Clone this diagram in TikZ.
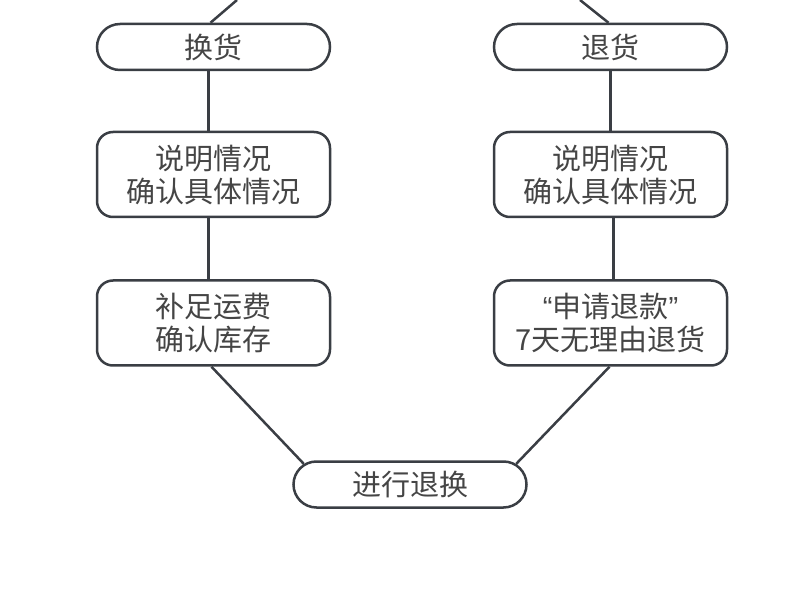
\documentclass[tikz,border=0pt]{standalone}
\usepackage{fontspec}
\usetikzlibrary{shapes.misc}
\setmainfont{Noto Sans CJK SC}
\newfontfamily\qfont{Liberation Sans}
\definecolor{linegray}{HTML}{3A3E44}
\definecolor{textgray}{HTML}{454545}

\begin{document}
\begin{tikzpicture}[x=1pt,y=-1pt,
  pill/.style={rounded rectangle, draw=linegray, line width=2.5pt, fill=white,
    minimum width=233pt, minimum height=46pt, inner sep=0pt, text=textgray,
    font=\fontsize{29}{33}\selectfont},
  box/.style={rectangle, rounded corners=16pt, draw=linegray, line width=2.5pt, fill=white,
    minimum width=233pt, minimum height=85pt, inner sep=0pt, text=textgray, align=center,
    font=\fontsize{29}{33}\selectfont},
  link/.style={draw=linegray, line width=2.5pt}]
\useasboundingbox (0,0) rectangle (790,601);

% left column
\node [pill] (hh) at (213.5,47) {换货};
\node [box] (smL) at (213.5,174.5) {说明情况\\确认具体情况};
\node [box] (bz) at (213.5,323) {补足运费\\确认库存};

% right column
\node [pill] (th) at (610.5,47) {退货};
\node [box] (smR) at (610.5,174.5) {说明情况\\确认具体情况};
\node [box] (sq) at (610.5,323) {{\qfont “}申请退款{\qfont ”}\\7天无理由退货};

% bottom
\node [pill] (jt) at (410,484.5) {进行退换};

\coordinate (inL) at (237,0);
\coordinate (inR) at (580,0);

\draw [link] (inL) -- ([xshift=-3pt]hh.north);
\draw [link] (inR) -- ([xshift=-2pt]th.north);
\draw [link] ([xshift=-5pt]hh.south) -- ([xshift=-5pt]smL.north);
\draw [link] ([xshift=-5pt]smL.south) -- ([xshift=-5pt]bz.north);
\draw [link] (th.south) -- (smR.north);
\draw [link] ([xshift=3pt]smR.south) -- ([xshift=3pt]sq.north);
\draw [link] ([xshift=-2pt]bz.south) -- (jt.169);
\draw [link] ([xshift=-1pt]sq.south) -- (jt.11);

\end{tikzpicture}
\end{document}
